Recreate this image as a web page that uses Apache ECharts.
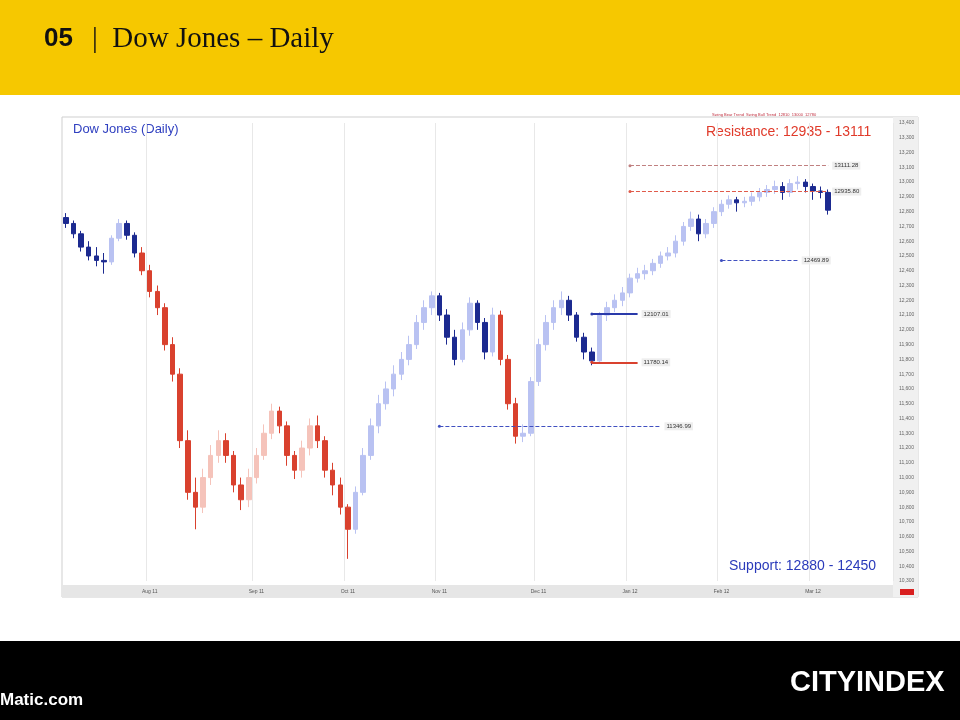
<!DOCTYPE html>
<html><head><meta charset="utf-8">
<script src="https://cdn.jsdelivr.net/npm/echarts@6/dist/echarts.min.js"></script>
<style>html,body{margin:0;padding:0;background:#fff}#c{width:960px;height:720px}</style>
</head><body><div id="c"></div>
<script>
// Dow Jones daily, Jul 2011 - Mar 2012
const monthIdx = [11, 25, 37, 49, 62, 74, 86, 98];
const monthNames = ["Aug 11", "Sep 11", "Oct 11", "Nov 11", "Dec 11", "Jan 12", "Feb 12", "Mar 12"];

const opens = [12760,12720,12650,12560,12500,12470,12460,12620,12720,12640,
  12520,12400,12260,12150,11900,11700,11250,10900,10800,11000,
  11150,11250,11150,10950,10850,11000,11150,11300,11450,11350,
  11150,11050,11200,11350,11250,11050,10950,10800,10650,10900,
  11150,11350,11500,11600,11700,11800,11900,12050,12150,12230,
  12100,11950,11800,12000,12180,12050,11850,12100,11800,11500,
  11280,11300,11650,11900,12050,12150,12200,12100,11950,11850,
  11790,12100,12150,12200,12250,12350,12380,12400,12450,12500,
  12520,12600,12700,12750,12650,12720,12800,12850,12880,12860,
  12870,12900,12930,12950,12970,12930,12990,13000,12970,12940,
  12930];
const closes = [12720,12650,12560,12500,12470,12460,12620,12720,12640,12520,
  12400,12260,12150,11900,11700,11250,10900,10800,11000,11150,
  11250,11150,10950,10850,11000,11150,11300,11450,11350,11150,
  11050,11200,11350,11250,11050,10950,10800,10650,10900,11150,
  11350,11500,11600,11700,11800,11900,12050,12150,12230,12100,
  11950,11800,12000,12180,12050,11850,12100,11800,11500,11280,
  11300,11650,11900,12050,12150,12200,12100,11950,11850,11790,
  12100,12150,12200,12250,12350,12380,12400,12450,12500,12520,
  12600,12700,12750,12650,12720,12800,12850,12880,12860,12870,
  12900,12930,12950,12970,12930,12990,13000,12970,12940,12930,
  12810];
const highs = [12790,12740,12670,12600,12560,12520,12640,12750,12740,12660,
  12560,12440,12300,12180,11950,11740,11320,11000,11060,11220,
  11320,11300,11180,11000,11060,11200,11360,11500,11480,11380,
  11180,11250,11400,11420,11280,11100,11000,10820,10940,11200,
  11400,11560,11650,11760,11850,11960,12100,12200,12260,12250,
  12140,12000,12050,12220,12200,12080,12150,12130,11830,11540,
  11360,11680,11940,12100,12200,12260,12230,12120,11980,11880,
  12120,12190,12240,12290,12380,12420,12440,12480,12530,12560,
  12640,12730,12800,12780,12750,12830,12880,12910,12900,12900,
  12930,12960,12980,13010,13000,13020,13040,13020,12990,12970,
  12950];
const lows = [12690,12620,12530,12470,12430,12380,12440,12600,12610,12490,
  12370,12220,12100,11860,11650,11200,10850,10650,10760,10950,
  11100,11100,10900,10780,10800,10960,11120,11260,11300,11080,
  10990,11000,11150,11200,11000,10880,10750,10450,10620,10880,
  11120,11300,11460,11550,11660,11760,11870,12000,12100,12060,
  11900,11760,11780,11960,12000,11800,11820,11760,11460,11230,
  11240,11280,11620,11860,12000,12100,12060,11920,11800,11760,
  11780,12060,12120,12160,12220,12320,12340,12370,12420,12470,
  12490,12570,12670,12600,12620,12690,12770,12820,12800,12830,
  12840,12870,12900,12920,12880,12900,12950,12930,12880,12890,
  12780];
// trend segments: [startIdx, endIdx, 'up'|'down']
const trends = [[0, 9, 'up'], [10, 37, 'down'], [38, 56, 'up'], [57, 59, 'down'], [60, 100, 'up']];
const slots = 109; // axis keeps empty room right of the last bar

const categories = Array.from({ length: slots }, (_, i) => {
  const k = monthIdx.indexOf(i);
  return k >= 0 ? monthNames[k] : '';
});
const trendAt = i => trends.find(t => i >= t[0] && i <= t[1])[2];
const palette = {
  up:   { dark: '#1c2a90', light: '#b9c2f2' },
  down: { dark: '#d9412e', light: '#f5c3ba' }
};
const candles = opens.map((o, i) => {
  const p = palette[trendAt(i)];
  const c = closes[i] < o ? p.dark : p.light;
  return { value: [o, closes[i], lows[i], highs[i]],
    itemStyle: { color: c, color0: c, borderColor: c, borderColor0: c } };
});

const lvl = (v, a, b, color, type) => [
  { coord: [a, v], lineStyle: { color, type, width: type === 'solid' ? 2 : 1 } },
  { coord: [b, v], label: { show: true, position: 'end', formatter: v.toFixed(2), color: '#333',
      fontSize: 6, backgroundColor: '#eee', padding: [1, 2], distance: 4 } }
];

const chart = echarts.init(document.getElementById('c'));
chart.setOption({
  animation: false,
  backgroundColor: '#fff',
  graphic: [
    { type: 'rect', shape: { x: 0, y: 0, width: 960, height: 95 }, style: { fill: '#f6c800' } },
    { type: 'text', left: 44, top: 26, style: { text: '05', fontFamily: 'Liberation Sans', fontWeight: 'bold', fontSize: 26, fill: '#111' } },
    { type: 'text', left: 92, top: 25, style: { text: '|  Dow Jones – Daily', fontFamily: 'Liberation Serif', fontSize: 29, fill: '#111' } },
    { type: 'rect', shape: { x: 62, y: 117, width: 856, height: 480 }, style: { fill: 'none', stroke: '#cfcfcf', lineWidth: 1 } },
    { type: 'rect', shape: { x: 62, y: 585, width: 831, height: 12 }, style: { fill: '#e6e6e6' } },
    { type: 'rect', shape: { x: 893, y: 117, width: 25, height: 480 }, style: { fill: '#f0f0f0' } },
    { type: 'rect', shape: { x: 900, y: 589, width: 14, height: 6 }, style: { fill: '#d92020' } },
    { type: 'text', left: 73, top: 123, style: { text: 'Dow Jones (Daily)', fontFamily: 'Liberation Sans', fontSize: 13, fill: '#3040c0' } },
    { type: 'text', left: 706, top: 125, style: { text: 'Resistance: 12935 - 13111', fontFamily: 'Liberation Sans', fontSize: 14, fill: '#e03a2a' } },
    { type: 'text', left: 712, top: 113, style: { text: 'Swing Bear Trend  Swing Bull Trend  12810  13000  12780', fontFamily: 'Liberation Sans', fontSize: 4, fill: '#c03040' } },
    { type: 'text', left: 729, top: 559, style: { text: 'Support: 12880 - 12450', fontFamily: 'Liberation Sans', fontSize: 14, fill: '#2a3aba' } },
    { type: 'rect', shape: { x: 0, y: 641, width: 960, height: 79 }, style: { fill: '#000' } },
    { type: 'text', left: 790, top: 668, style: { text: 'CITYINDEX', fontFamily: 'Liberation Sans', fontWeight: 'bold', fontSize: 29, fill: '#fff' } },
    { type: 'text', left: 0, top: 692, style: { text: 'Matic.com', fontFamily: 'Liberation Sans', fontWeight: 'bold', fontSize: 17, fill: '#fff' } }
  ],
  grid: { left: 62, right: 67, top: 123, bottom: 139 },
  xAxis: {
    type: 'category', data: categories, boundaryGap: true,
    axisLine: { show: false }, axisTick: { show: false },
    axisLabel: { interval: (i, v) => v !== '', fontSize: 5, color: '#555', margin: 8 },
    splitLine: { show: true, interval: (i, v) => v !== '', lineStyle: { color: '#e8e8e8' } }
  },
  yAxis: {
    type: 'value', position: 'right', min: 10300, max: 13400, interval: 100,
    axisLine: { show: false }, axisTick: { show: false },
    axisLabel: { fontSize: 5, color: '#666', margin: 6 },
    splitLine: { show: false }
  },
  series: [{
    type: 'candlestick', data: candles, barWidth: 5,
    markLine: {
      symbol: ['circle', 'none'], symbolSize: 3, silent: true,
      data: [
        lvl(13111.28, 74, 100, '#c08080', 'dashed'),
        lvl(12935.80, 74, 100, '#e05a4a', 'dashed'),
        lvl(12469.89, 86, 96, '#4050c0', 'dashed'),
        lvl(12107.01, 69, 75, '#2a3aaa', 'solid'),
        lvl(11780.14, 69, 75, '#d9412e', 'solid'),
        lvl(11346.99, 49, 78, '#4050c0', 'dashed')
      ]
    }
  }]
});
</script></body></html>
